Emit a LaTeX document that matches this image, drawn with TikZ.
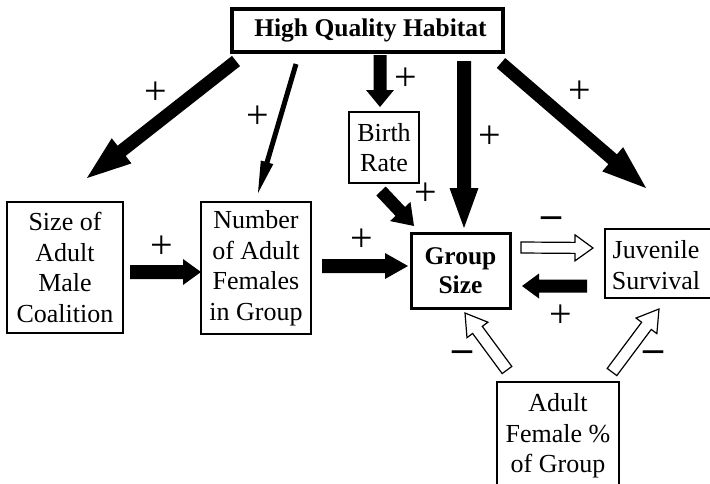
\documentclass[tikz,border=0pt]{standalone}
\usepackage{fontspec}
\setmainfont{Liberation Serif}
\usetikzlibrary{calc}
% block arrow: #1 style, #2 from, #3 to, #4 half shaft width, #5 half head width, #6 head length
\newcommand{\blockarrow}[6]{%
  \coordinate (ba-h) at ($(#3)!#6pt!(#2)$);
  \path[#1] ($(#2)!#4pt!90:(#3)$) -- ($(ba-h)!#4pt!90:(#3)$) -- ($(ba-h)!#5pt!90:(#3)$) -- (#3)
    -- ($(ba-h)!#5pt!-90:(#3)$) -- ($(ba-h)!#4pt!-90:(#3)$) -- ($(#2)!#4pt!-90:(#3)$) -- cycle;
}
\tikzset{
  box/.style={draw, line width=1.6pt, align=center, inner sep=0pt, font=\fontsize{26}{30.5}\selectfont},
  boldbox/.style={box, line width=3.2pt, font=\fontsize{25.5}{29}\selectfont\bfseries},
  txt/.style={align=center, inner sep=0pt, font=\fontsize{26}{30.5}\selectfont},
  blk/.style={fill=black},
  wht/.style={draw=black, fill=white, line width=1.2pt, line join=miter},
  plus/.style={inner sep=0pt, font=\fontsize{40}{40}\selectfont},
  minus/.style={inner sep=0pt, font=\fontsize{40}{40}\selectfont\bfseries}
}
\begin{document}
\begin{tikzpicture}[x=1pt,y=-1pt]
\clip (0,0) rectangle (710,483);
\fill[white] (0,0) rectangle (710,483);
% nodes
\node[boldbox, minimum width=271, minimum height=43] (hqh) at (367.5,30.5) {\hspace*{6pt}High Quality Habitat};
\node[box, minimum width=70, minimum height=71] (birth) at (384,147.5) {Birth\\Rate};
\node[box, minimum width=116, minimum height=131] (sam) at (65,267.5) {Size of\\Adult\\Male\\Coalition};
\node[box, minimum width=110, minimum height=132] (num) at (256,268) {Number\\of Adult\\Females\\in Group};
\node[boldbox, line width=3pt, minimum width=99, minimum height=75, font=\fontsize{25.5}{29}\selectfont\bfseries] (grp) at (460.5,270.5) {Group\\Size};
\node[txt] (juv) at (656,265) {Juvenile\\Survival};
\draw[line width=1.6pt] (605,229) rectangle (716,298);
\node[txt] (afp) at (558,436) {Adult\\Female \%\\of Group};
\draw[line width=1.6pt] (497,382) rectangle (619,492);
% connector end points
\coordinate (a1s) at (236,61);  \coordinate (a1e) at (87,178);
\coordinate (a2s) at (296,64);  \coordinate (a2e) at (258,193);
\coordinate (a3s) at (380,55);  \coordinate (a3e) at (380,107);
\coordinate (a4s) at (464,61);  \coordinate (a4e) at (464,228);
\coordinate (a5s) at (501,63);  \coordinate (a5e) at (646,188);
\coordinate (a6s) at (381,191); \coordinate (a6e) at (414,226);
\coordinate (a7s) at (130,272); \coordinate (a7e) at (201,272);
\coordinate (a8s) at (322,266); \coordinate (a8e) at (408,266);
\coordinate (a9s) at (521,247.5); \coordinate (a9e) at (593,248);
\coordinate (a10s) at (587,286); \coordinate (a10e) at (522,286);
\coordinate (a11s) at (507,370); \coordinate (a11e) at (465,313);
\coordinate (a12s) at (612,372); \coordinate (a12e) at (659,309);
% arrows
\blockarrow{blk}{a1s}{a1e}{6.5}{16}{44}
\blockarrow{blk}{a2s}{a2e}{2.5}{6.5}{32}
\blockarrow{blk}{a3s}{a3e}{6.5}{14}{17}
\blockarrow{blk}{a4s}{a4e}{7}{14.5}{40}
\blockarrow{blk}{a5s}{a5e}{6.5}{16}{44}
\blockarrow{blk}{a6s}{a6e}{6.5}{14}{20}
\blockarrow{blk}{a7s}{a7e}{7}{13}{18}
\blockarrow{blk}{a8s}{a8e}{7}{13}{23}
\blockarrow{wht}{a9s}{a9e}{5.5}{13}{18}
\blockarrow{blk}{a10s}{a10e}{6.5}{12.5}{17}
\blockarrow{wht}{a11s}{a11e}{6}{13}{21}
\blockarrow{wht}{a12s}{a12e}{6}{13}{21}
% signs
\node[plus] (p1) at (156,93) {+};
\node[plus] (p2) at (258,117) {+};
\node[plus] (p3) at (406,79) {+};
\node[plus] (p4) at (490,137) {+};
\node[plus] (p5) at (580,92) {+};
\node[plus] (p6) at (426,194) {+};
\node[plus] (p7) at (162,247) {+};
\node[plus] (p8) at (362,240) {+};
\node[minus] (m1) at (551,222) {–};
\node[plus] (p9) at (561,316) {+};
\node[minus] (m2) at (462,356) {–};
\node[minus] (m3) at (653,356) {–};
\end{tikzpicture}
\end{document}
